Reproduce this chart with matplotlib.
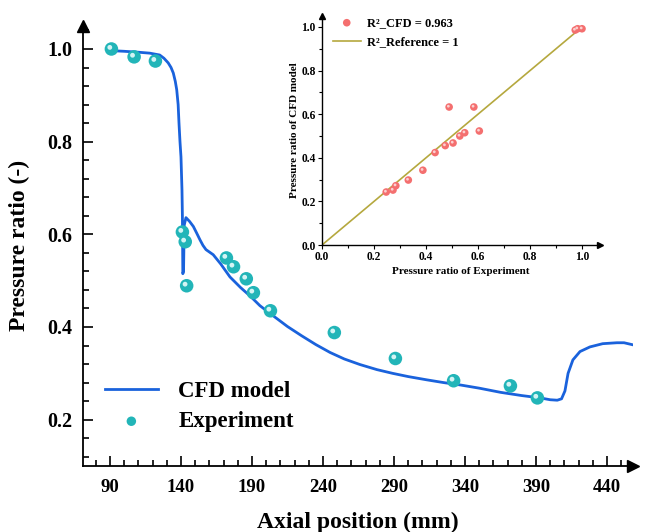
import matplotlib
matplotlib.use("Agg")
import matplotlib.pyplot as plt
import matplotlib.transforms as mtransforms
from matplotlib.ticker import MultipleLocator, FixedLocator
import numpy as np

plt.rcParams['font.family'] = ['Liberation Serif', 'DejaVu Serif']
plt.rcParams['font.weight'] = 'bold'
plt.rcParams['axes.labelweight'] = 'bold'

# ---------------- data ----------------
cfd_x = [93.5, 100, 110, 118, 125, 128, 131, 133, 134.6, 136, 137, 138, 138.6, 139.3,
         140, 140.7, 141.0, 141.3, 141.8, 142.3, 143.5, 146, 148.7, 151, 153.4, 155.5,
         157.6, 162.7, 168, 174.5, 182, 189, 195.6, 205, 215, 225, 235, 245, 255, 266,
         278, 289, 300, 313, 325, 336.5, 350, 365, 380, 392.8, 400, 405, 408, 410.4,
         412.6, 416, 421, 428, 437, 447, 452, 457.6]
cfd_y = [0.996, 0.995, 0.993, 0.991, 0.987, 0.980, 0.970, 0.960, 0.948, 0.930, 0.912,
         0.880, 0.840, 0.800, 0.767, 0.696, 0.640, 0.515, 0.520, 0.620, 0.636, 0.628,
         0.617, 0.603, 0.588, 0.576, 0.567, 0.556, 0.536, 0.508, 0.485, 0.466, 0.446,
         0.424, 0.401, 0.381, 0.362, 0.345, 0.331, 0.319, 0.308, 0.300, 0.293, 0.286,
         0.280, 0.275, 0.268, 0.259, 0.252, 0.247, 0.243, 0.242, 0.245, 0.262, 0.300,
         0.329, 0.347, 0.357, 0.364, 0.366, 0.366, 0.362]

exp_x = [91, 107, 122, 141, 143, 144, 172, 177, 186, 191, 203, 248, 291, 332, 372, 391]
exp_y = [1.000, 0.983, 0.974, 0.605, 0.584, 0.489, 0.549, 0.530, 0.504, 0.474, 0.435,
         0.388, 0.332, 0.284, 0.273, 0.247]
# CFD value at each experimental position (inset y)
cfd_at_exp = [0.992, 0.992, 0.986, 0.523, 0.633, 0.633, 0.515, 0.500, 0.468, 0.456,
              0.424, 0.343, 0.298, 0.272, 0.252, 0.243]
ref_line = [0.0, 1.0]

main_xticks = [90, 140, 190, 240, 290, 340, 390, 440]
main_yticks = [0.2, 0.4, 0.6, 0.8, 1.0]
inset_ticks = [0.0, 0.2, 0.4, 0.6, 0.8, 1.0]

BLUE = '#1a62dc'
TEAL = '#22b5b8'
TEAL_HI = '#d4f4f4'
RED = '#f46f6f'
OLIVE = '#b5a83e'

W, H = 646, 532
fig = plt.figure(figsize=(W / 100, H / 100), dpi=100)

# ---------------- main axes ----------------
xl, xr = 71, 458
yb, yt = 0.10, 1.05
left_px, right_px = 83, 83 + (xr - xl) * 1.42
bot_px, top_px = 466, 49 - (yt - 1.0) * 463.75
ax = fig.add_axes([left_px / W, (H - bot_px) / H, (right_px - left_px) / W,
                   (bot_px - top_px) / H])
ax.set_xlim(xl, xr)
ax.set_ylim(yb, yt)
for s in ['top', 'right']:
    ax.spines[s].set_visible(False)
for s in ['left', 'bottom']:
    ax.spines[s].set_linewidth(1.3)
ax.plot(1, 0, '>k', ms=8, transform=ax.transAxes, clip_on=False)
ax.plot(0, 1, '^k', ms=8, transform=ax.transAxes, clip_on=False)

ax.xaxis.set_major_locator(FixedLocator(main_xticks))
ax.xaxis.set_minor_locator(MultipleLocator(10))
ax.yaxis.set_major_locator(FixedLocator(main_yticks))
ax.yaxis.set_minor_locator(MultipleLocator(0.04))
ax.tick_params(which='both', direction='in', width=1.2)
ax.tick_params(which='major', length=7)
ax.tick_params(which='minor', length=4)
ax.tick_params(axis='x', which='major', labelsize=13.5, pad=9)
ax.tick_params(axis='y', which='major', labelsize=14.5, pad=8)
ax.set_yticklabels([f'{v:.1f}' for v in main_yticks])
ax.set_xticklabels([str(v) for v in main_xticks])

ax.set_xlabel('Axial position (mm)', fontsize=17, fontweight='bold', labelpad=12)
ax.set_ylabel('Pressure ratio (-)', fontsize=17, fontweight='bold', labelpad=12)

line, = ax.plot(cfd_x, cfd_y, color=BLUE, lw=2.0, label='CFD model', zorder=3)
off = mtransforms.ScaledTranslation(-1.6 / 100, 1.6 / 100, fig.dpi_scale_trans)
sc = ax.scatter(exp_x, exp_y, s=95, color=TEAL, edgecolors='none', zorder=4,
                label='Experiment')
ax.scatter(exp_x, exp_y, s=12, color=TEAL_HI, edgecolors='none', zorder=5,
           transform=ax.transData + off)

leg = ax.legend(handles=[line, sc], loc='upper left',
                bbox_to_anchor=(105 / W, (H - 381) / H),
                bbox_transform=fig.transFigure, frameon=False,
                prop={'family': 'Liberation Serif', 'weight': 'bold', 'size': 16.5},
                handlelength=2.3, handletextpad=0.9, labelspacing=0.4,
                borderpad=0, borderaxespad=0, markerscale=0.7)

# ---------------- inset ----------------
ix0, iy0 = 322, 245
ipx, ipy = 260, 218
ilim = 1.07
ilim_y = 1.05
ins = fig.add_axes([ix0 / W, (H - iy0) / H, ilim * ipx / W, ilim_y * ipy / H])
ins.set_xlim(0, ilim)
ins.set_ylim(0, ilim_y)
for s in ['top', 'right']:
    ins.spines[s].set_visible(False)
for s in ['left', 'bottom']:
    ins.spines[s].set_linewidth(1.0)
ins.plot(1, 0, '>k', ms=5, transform=ins.transAxes, clip_on=False)
ins.plot(0, 1, '^k', ms=5, transform=ins.transAxes, clip_on=False)
ins.xaxis.set_major_locator(FixedLocator(inset_ticks))
ins.yaxis.set_major_locator(FixedLocator(inset_ticks))
ins.xaxis.set_minor_locator(MultipleLocator(0.1))
ins.yaxis.set_minor_locator(MultipleLocator(0.1))
ins.tick_params(which='both', direction='out', width=0.8, labelsize=8.3, pad=1.5)
ins.tick_params(which='major', length=3)
ins.tick_params(which='minor', length=2)
ins.set_xticklabels([f'{v:.1f}' for v in inset_ticks])
ins.set_yticklabels([f'{v:.1f}' for v in inset_ticks])
ins.set_xlabel('Pressure ratio of Experiment', fontsize=8, fontweight='bold', labelpad=3)
ins.set_ylabel('Pressure ratio of CFD model', fontsize=8, fontweight='bold', labelpad=2)

rl, = ins.plot(ref_line, ref_line, color=OLIVE, lw=1.2, label='R²_Reference = 1', zorder=2)
rs = ins.scatter(exp_y, cfd_at_exp, s=30, color=RED, edgecolors='none', zorder=3,
                 label='R²_CFD = 0.963')
off2 = mtransforms.ScaledTranslation(-0.8 / 100, 0.8 / 100, fig.dpi_scale_trans)
ins.scatter(exp_y, cfd_at_exp, s=4, color='#fbd0d0', edgecolors='none', zorder=4,
            transform=ins.transData + off2)
ins.legend(handles=[rs, rl], loc='upper left',
           bbox_to_anchor=(333 / W, (H - 17) / H), bbox_transform=fig.transFigure,
           frameon=False, prop={'family': 'Liberation Serif', 'weight': 'bold', 'size': 9},
           handlelength=2.2, handletextpad=0.5, labelspacing=0.6,
           borderpad=0, borderaxespad=0)

fig.savefig('out.png', dpi=100)
